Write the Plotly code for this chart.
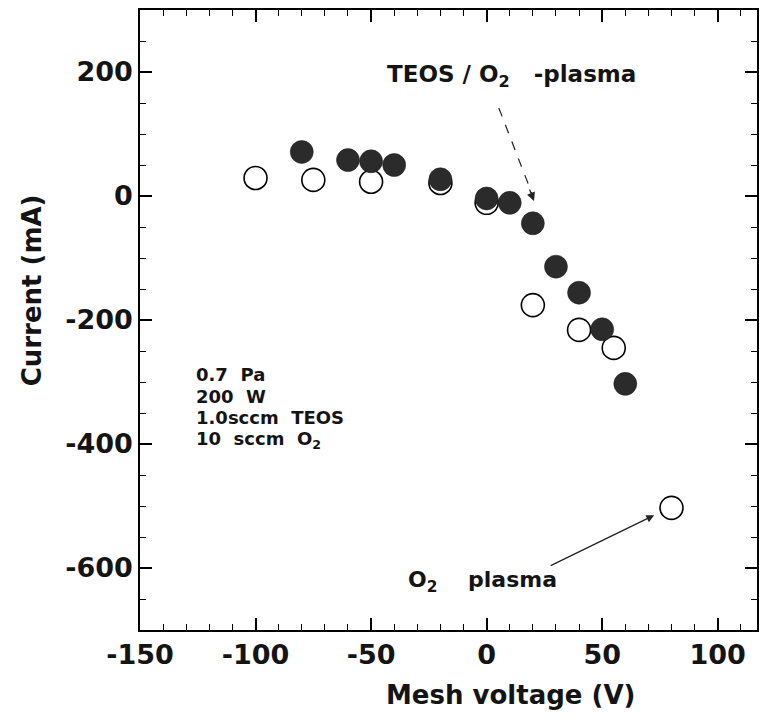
import plotly.graph_objects as go

# Data
teos_x = [-80, -60, -50, -40, -20, 0, 10, 20, 30, 40, 50, 60]
teos_y = [71, 58, 56, 50, 27, -4, -11, -44, -114, -156, -215, -303]

o2_x = [-100, -75, -50, -20, 0, 20, 40, 55, 80]
o2_y = [29, 26, 23, 21, -11, -176, -216, -245, -503]

x_ticks = [-150, -100, -50, 0, 50, 100]
x_ticklabels = ["-150", "-100", "-50", "0", "50", "100"]
y_ticks = [-600, -400, -200, 0, 200]
y_ticklabels = ["-600", "-400", "-200", "0", "200"]

x_range = [-150, 117]
y_range = [-700, 300]

FONT = "DejaVu Sans"
INK = "#141414"

fig = go.Figure()

fig.add_trace(go.Scatter(
    x=o2_x, y=o2_y, mode="markers", name="O2 plasma",
    marker=dict(symbol="circle", size=23, color="white",
                line=dict(color="black", width=1.6)),
))
fig.add_trace(go.Scatter(
    x=teos_x, y=teos_y, mode="markers", name="TEOS/O2 plasma",
    marker=dict(symbol="circle", size=23, color="#2b2b2b",
                line=dict(color="#1a1a1a", width=0.5)),
))

axis_common = dict(
    showline=True, linecolor="black", linewidth=1.5, mirror="ticks",
    ticks="inside", ticklen=12, tickwidth=1.5, tickcolor="black",
    showgrid=False, zeroline=False,
    tickfont=dict(family=FONT, size=27, color=INK, weight="bold"),
)

fig.update_xaxes(range=x_range, tickmode="array", tickvals=x_ticks, ticktext=x_ticklabels,
                 minor=dict(ticks="inside", dtick=10, tick0=0, ticklen=6, tickwidth=1.2,
                            tickcolor="black", showgrid=False),
                 **axis_common)
fig.update_yaxes(range=y_range, tickmode="array", tickvals=y_ticks, ticktext=y_ticklabels,
                 minor=dict(ticks="inside", dtick=50, tick0=0, ticklen=6, tickwidth=1.2,
                            tickcolor="black", showgrid=False),
                 **axis_common)

W, H = 763, 719
L, R, T, B = 140, 4, 10, 89
pw, ph = W - L - R, H - T - B


def px(x):
    return (x - L) / pw


def py(y):
    return (H - B - y) / ph


def bfont(size):
    return dict(family=FONT, size=size, color=INK, weight="bold")


annotations = []
# axis titles
annotations.append(dict(x=px(512), y=py(695), xref="paper", yref="paper",
                        text="Mesh voltage (V)", showarrow=False,
                        font=bfont(26), xanchor="center", yanchor="middle"))
annotations.append(dict(x=px(32), y=py(290), xref="paper", yref="paper",
                        text="Current (mA)", showarrow=False, textangle=-90,
                        font=bfont(26), xanchor="center", yanchor="middle"))

# condition text
cond_lines = ["0.7  Pa", "200  W", "1.0sccm  TEOS", "10  sccm  O<sub>2</sub>"]
cond_y = [375, 397, 418, 439]
for t, yy in zip(cond_lines, cond_y):
    annotations.append(dict(x=px(194), y=py(yy - 13), xref="paper", yref="paper",
                            text=t, showarrow=False, font=bfont(18),
                            xanchor="left", yanchor="top"))

# TEOS / O2 plasma label
annotations.append(dict(x=px(513), y=py(76), xref="paper", yref="paper",
                        text="TEOS / O<sub>2</sub>   -plasma", showarrow=False,
                        font=bfont(23), xanchor="center", yanchor="middle"))
# arrow head for dashed arrow
annotations.append(dict(x=20.5, y=-8, xref="x", yref="y", text="",
                        showarrow=True, arrowhead=2, arrowsize=1.4, arrowwidth=1.2,
                        arrowcolor="#222", ax=-5, ay=-13))

# O2 plasma label and arrow
annotations.append(dict(x=px(407), y=py(581), xref="paper", yref="paper",
                        text="O<sub>2</sub>    plasma", showarrow=False,
                        font=bfont(22), xanchor="left", yanchor="middle"))
annotations.append(dict(x=72.5, y=-515, xref="x", yref="y", text="",
                        showarrow=True, arrowhead=2, arrowsize=1.2, arrowwidth=1.3,
                        arrowcolor="#222", ax=-105, ay=51))

shapes = [dict(type="line", xref="paper", yref="paper",
               x0=px(500), y0=py(108), x1=px(533), y1=py(193),
               line=dict(color="#222", width=1.2, dash="dash"))]

fig.update_layout(
    width=W, height=H,
    margin=dict(l=L, r=R, t=T, b=B),
    paper_bgcolor="white", plot_bgcolor="white",
    showlegend=False,
    annotations=annotations,
    shapes=shapes,
    font=dict(family=FONT, color=INK),
)

fig.write_html("out.html")
